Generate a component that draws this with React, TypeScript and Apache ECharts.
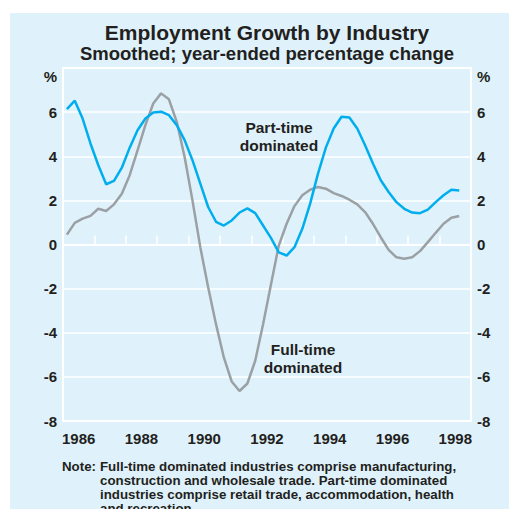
import React, { useEffect, useRef } from "react";
import * as echarts from "echarts";

// Quarterly observations, first quarter = March quarter 1986
const firstYear = 1986;
const yearLabels = ["1986","1987","1988","1989","1990","1991","1992","1993","1994","1995","1996","1997","1998"];
const partTime = [
  6.14, 6.52, 5.71, 4.58, 3.59, 2.73, 2.88, 3.48, 4.39, 5.18,
  5.71, 5.98, 6.02, 5.86, 5.41, 4.73, 3.82, 2.76, 1.70, 1.03,
  0.86, 1.09, 1.45, 1.64, 1.42, 0.86, 0.30, -0.36, -0.50, -0.12,
  0.71, 1.85, 3.21, 4.39, 5.26, 5.79, 5.76, 5.26, 4.50, 3.67,
  2.91, 2.38, 1.92, 1.62, 1.45, 1.42, 1.58, 1.92, 2.23, 2.48, 2.45,
];
const fullTime = [
  0.45, 0.98, 1.17, 1.30, 1.62, 1.52, 1.82, 2.30, 3.14, 4.27,
  5.41, 6.39, 6.85, 6.58, 5.56, 3.97, 2.00, -0.12, -1.94, -3.61,
  -5.12, -6.21, -6.64, -6.30, -5.27, -3.61, -1.82, -0.05, 0.94, 1.74,
  2.23, 2.48, 2.61, 2.53, 2.33, 2.20, 2.03, 1.82, 1.47, 0.94,
  0.33, -0.24, -0.58, -0.65, -0.58, -0.30, 0.11, 0.53, 0.94, 1.21, 1.29,
];
const title = "Employment Growth by Industry";
const subtitle = "Smoothed; year-ended percentage change";
const noteLines = [
  "Full-time dominated industries comprise manufacturing,",
  "construction and wholesale trade. Part-time dominated",
  "industries comprise retail trade, accommodation, health",
  "and recreation.",
];

const toPoints = (vals: number[]) =>
  vals.map((v, i) => [firstYear + (i + 0.5) / 4, v]);

const TXT = "#231f20";
const FONT = "'Liberation Sans', Arial, sans-serif";

export default function App() {
  const ref = useRef<HTMLDivElement>(null);
  useEffect(() => {
    if (!ref.current) return;
    const chart = echarts.init(ref.current, undefined, { renderer: "svg" });
    const yLabel = {
      color: TXT,
      fontSize: 15,
      fontWeight: "bold" as const,
      fontFamily: FONT,
      margin: 6,
      formatter: (v: number) => (v === 8 ? "{p|%}" : String(v)),
      rich: {
        p: { padding: [16, 0, 0, 0], fontSize: 15, fontWeight: "bold", color: TXT, fontFamily: FONT },
      },
    };
    chart.setOption({
      animation: false,
      backgroundColor: "#ffffff",
      textStyle: { fontFamily: FONT },
      graphic: [
        { type: "rect", z: -10, shape: { x: 10, y: 13, width: 499, height: 496 }, style: { fill: "#dff2fb" } },
        { type: "text", x: 267, y: 32, style: { text: title, fontSize: 21, fontWeight: "bold", fill: TXT, fontFamily: FONT, align: "center", verticalAlign: "middle" } },
        { type: "text", x: 267, y: 53, style: { text: subtitle, fontSize: 18.5, fontWeight: "bold", fill: TXT, fontFamily: FONT, align: "center", verticalAlign: "middle" } },
        { type: "text", x: 279, y: 136, style: { text: "Part-time\ndominated", fontSize: 15.5, lineHeight: 18, fontWeight: "bold", fill: TXT, fontFamily: FONT, align: "center", verticalAlign: "middle" } },
        { type: "text", x: 303, y: 358, style: { text: "Full-time\ndominated", fontSize: 15.5, lineHeight: 18, fontWeight: "bold", fill: TXT, fontFamily: FONT, align: "center", verticalAlign: "middle" } },
        { type: "text", x: 62, y: 466, style: { text: "Note:", fontSize: 13.3, fontWeight: "bold", fill: TXT, fontFamily: FONT, align: "left", verticalAlign: "middle" } },
        ...noteLines.map((t, i) => ({
          type: "text", x: 100, y: 466 + i * 14,
          style: { text: t, fontSize: 13.3, fontWeight: "bold", fill: TXT, fontFamily: FONT, align: "left", verticalAlign: "middle" },
        })),
      ],
      grid: {
        left: 63, right: 38, top: 68, bottom: 88,
        show: true, borderColor: "#ffffff", borderWidth: 2, backgroundColor: "transparent",
      },
      xAxis: [
        {
          type: "category",
          data: yearLabels,
          boundaryGap: true,
          axisLine: { show: true, lineStyle: { color: "#ffffff", width: 2 } },
          axisTick: { show: true, inside: true, length: 9, interval: 0, lineStyle: { color: "#ffffff", width: 1.5 } },
          axisLabel: { interval: 1, color: TXT, fontSize: 15, fontWeight: "bold", fontFamily: FONT, margin: 10 },
          splitLine: { show: false },
        },
        { type: "value", min: 1986, max: 1999, show: false },
      ],
      yAxis: [
        {
          type: "value", position: "left", min: -8, max: 8, interval: 2,
          axisLine: { show: false }, axisTick: { show: false },
          splitLine: { show: true, lineStyle: { color: "#ffffff", width: 1.5 } },
          axisLabel: yLabel,
        },
        {
          type: "value", position: "right", min: -8, max: 8, interval: 2,
          axisLine: { show: false }, axisTick: { show: false },
          splitLine: { show: false },
          axisLabel: yLabel,
        },
      ],
      series: [
        {
          name: "Full-time dominated", type: "line", xAxisIndex: 1, yAxisIndex: 0,
          data: toPoints(fullTime), showSymbol: false, symbol: "none",
          lineStyle: { color: "#9ba0a4", width: 2.5 }, z: 3,
        },
        {
          name: "Part-time dominated", type: "line", xAxisIndex: 1, yAxisIndex: 0,
          data: toPoints(partTime), showSymbol: false, symbol: "none",
          lineStyle: { color: "#00aeef", width: 2.5 }, z: 4,
        },
      ],
    });
    return () => chart.dispose();
  }, []);
  return (
    <div
      ref={ref}
      style={{ position: "fixed", left: 0, top: 0, width: 509, height: 509 }}
    />
  );
}
